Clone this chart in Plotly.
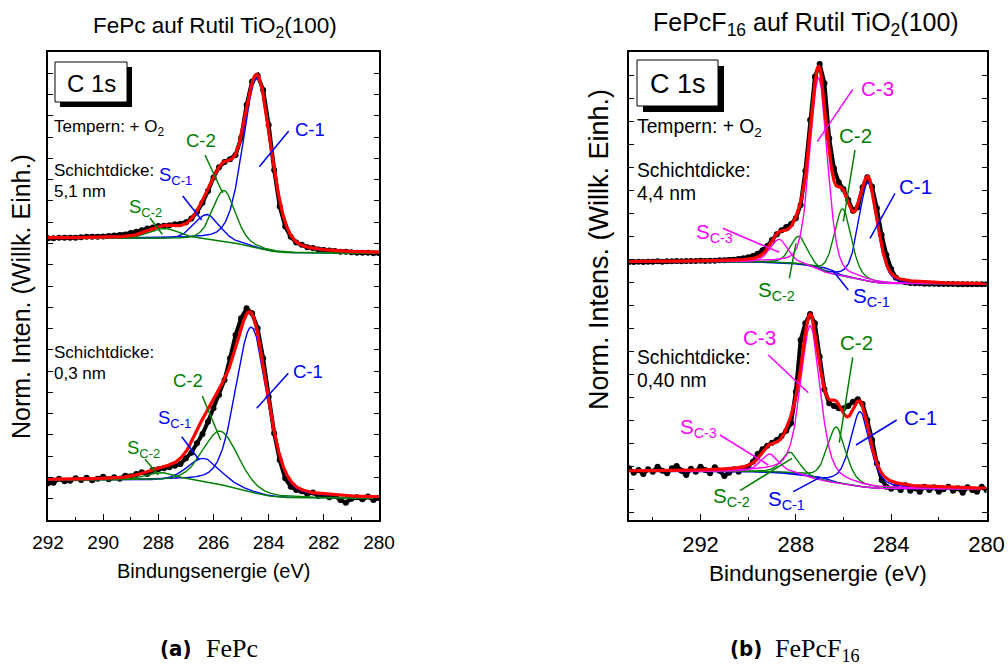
import numpy as np
import plotly.graph_objects as go

W, H = 1008, 666
FONT = "Liberation Sans, Arial, sans-serif"
BLUE, GREEN, MAGENTA, RED = "#0000ff", "#008000", "#ff00ff", "#ff0000"

# ---------------- measured C 1s spectra (norm. intensity, stacked) ----------------
# FePc on rutile TiO2(100): binding energy grid 292.0 ... 280.0 eV, 0.2 eV steps
E_FEPC = np.round(np.arange(292.0, 279.99, -0.2), 1)
FEPC_51NM = [
    60.2, 60.2, 60.3, 60.3, 60.3, 60.3, 60.4, 60.5, 60.5, 60.5,
    60.6, 60.7, 60.8, 60.9, 61.0, 61.3, 61.6, 61.9, 62.3, 62.5,
    62.8, 62.9, 63.0, 63.2, 63.3, 63.6, 64.4, 65.8, 67.8, 70.3,
    73.2, 75.4, 76.5, 77.1, 78.0, 81.6, 88.7, 93.7, 95.0, 91.9,
    84.4, 74.8, 67.0, 62.7, 60.5, 59.3, 58.8, 58.3, 58.1, 57.8,
    57.7, 57.6, 57.5, 57.3, 57.3, 57.2, 57.1, 57.1, 57.1, 57.0,
    57.0,
]
FEPC_03NM = [
    7.84, 7.98, 8.84, 8.27, 8.41, 8.91, 8.55, 9.05, 8.48, 8.84,
    9.26, 8.69, 9.12, 8.84, 9.48, 9.33, 9.83, 10.19, 9.83, 10.69,
    10.83, 11.04, 11.26, 11.61, 11.97, 13.18, 14.39, 16.39, 18.38, 21.02,
    23.86, 26.71, 29.92, 34.55, 39.53, 43.10, 45.23, 44.16, 40.96, 34.55,
    26.36, 18.52, 12.83, 8.91, 7.13, 6.42, 6.13, 5.56, 5.85, 5.13,
    5.35, 4.85, 5.13, 4.28, 3.71, 4.56, 4.85, 4.42, 5.00, 4.28,
    4.71,
]

# FePcF16 on rutile TiO2(100): binding energy grid 295.0 ... 280.0 eV, 0.2 eV steps
E_FEPCF16 = np.round(np.arange(295.0, 279.99, -0.2), 1)
FEPCF16_44NM = [
    55.13, 55.13, 55.20, 55.13, 55.20, 55.20, 55.27, 55.20, 55.27, 55.27,
    55.34, 55.27, 55.34, 55.34, 55.34, 55.42, 55.34, 55.42, 55.42, 55.49,
    55.49, 55.56, 55.63, 55.77, 55.91, 56.13, 56.41, 56.91, 57.62, 58.55,
    59.83, 61.04, 61.90, 62.61, 63.25, 64.46, 67.31, 74.58, 85.47, 94.73,
    97.44, 93.31, 81.56, 75.15, 72.15, 70.66, 68.38, 66.10, 66.81, 71.08,
    73.22, 71.23, 66.60, 60.90, 56.63, 53.64, 51.78, 51.07, 50.79, 50.64,
    50.57, 50.57, 50.50, 50.50, 50.50, 50.43, 50.43, 50.43, 50.43, 50.36,
    50.36, 50.36, 50.36, 50.36, 50.36, 50.36,
]
FEPCF16_040NM = [
    11.04, 10.12, 10.69, 9.83, 10.83, 10.33, 11.40, 10.54, 9.97, 11.04,
    11.54, 10.54, 9.62, 10.97, 10.33, 11.40, 10.69, 9.97, 11.26, 10.54,
    9.40, 10.12, 10.83, 10.33, 11.04, 11.40, 12.47, 14.10, 15.10, 15.88,
    16.53, 17.10, 17.95, 19.09, 20.66, 27.42, 38.46, 42.02, 44.02, 42.02,
    34.90, 27.92, 24.93, 24.36, 23.86, 23.86, 24.36, 25.29, 25.79, 24.79,
    21.37, 17.10, 12.11, 8.55, 7.12, 6.70, 7.12, 6.41, 7.41, 6.27,
    6.77, 6.06, 7.12, 6.41, 6.98, 6.06, 6.56, 7.12, 6.27, 6.77,
    5.84, 6.98, 6.41, 6.06, 7.12, 6.41,
]

# ---------------- fit components: centre (eV), height, FWHM (eV) ----------------
# FePc order: C-1, S(C-1), C-2, S(C-2)
FEPC_COLORS = [BLUE, BLUE, GREEN, GREEN]
FEPC_51NM_POS = [284.42, 286.23, 285.62, 287.75]
FEPC_51NM_HGT = [36.3, 5.5, 11.0, 2.2]
FEPC_51NM_FWHM = [1.20, 1.09, 0.97, 1.30]
FEPC_51NM_BG = [57.0, 60.2]           # Shirley levels: low-BE side, high-BE side
FEPC_51NM_ETA = 0.3                   # Lorentzian fraction of the pseudo-Voigt

FEPC_03NM_POS = [284.62, 286.35, 285.75, 287.87]
FEPC_03NM_HGT = [35.2, 5.2, 11.5, 1.7]
FEPC_03NM_FWHM = [1.36, 1.40, 1.50, 1.40]
FEPC_03NM_BG = [4.65, 8.55]
FEPC_03NM_ETA = 0.3

# FePcF16 order: C-1, S(C-1), C-2, S(C-2), C-3, S(C-3)
FEPCF16_COLORS = [BLUE, BLUE, GREEN, GREEN, MAGENTA, MAGENTA]
FEPCF16_44NM_POS = [284.97, 286.69, 286.03, 287.87, 287.04, 288.70]
FEPCF16_44NM_HGT = [21.0, 1.0, 14.45, 6.0, 41.0, 5.0]
FEPCF16_44NM_FWHM = [0.91, 0.85, 0.84, 0.84, 0.87, 0.88]
FEPCF16_44NM_BG = [50.4, 55.2]
FEPCF16_44NM_ETA = 0.3

FEPCF16_040NM_POS = [285.30, 286.90, 286.30, 288.24, 287.39, 289.08]
FEPCF16_040NM_HGT = [16.0, 0.7, 12.0, 4.6, 32.5, 3.9]
FEPCF16_040NM_FWHM = [0.96, 0.90, 0.92, 0.85, 0.98, 0.90]
FEPCF16_040NM_BG = [6.6, 10.4]
FEPCF16_040NM_ETA = 0.5


def pseudo_voigt(e, pos, height, fwhm, eta):
    d = (e - pos) / fwhm
    gauss = np.exp(-4.0 * np.log(2.0) * d ** 2)
    lorentz = 1.0 / (1.0 + 4.0 * d ** 2)
    return height * ((1.0 - eta) * gauss + eta * lorentz)


def shirley(e, total, low, high):
    """Shirley-type step background; e ascending."""
    cum = np.concatenate([[0.0], np.cumsum(0.5 * (total[1:] + total[:-1]) * np.diff(e))])
    return low + (high - low) * cum / cum[-1]


fig = go.Figure()


def add_spectrum(xa, ya, e_meas, meas, e_lo, e_hi, pos, hgt, fwhm, bg_levels, eta, colors):
    fig.add_trace(go.Scatter(
        x=e_meas, y=meas, xaxis=xa, yaxis=ya, mode="lines+markers",
        line=dict(color="black", width=4), marker=dict(color="black", size=6),
        hoverinfo="skip"))
    e = np.linspace(e_lo, e_hi, 1201)
    comps = [pseudo_voigt(e, p, h, w, eta) for p, h, w in zip(pos, hgt, fwhm)]
    bg = shirley(e, np.sum(comps, axis=0), *bg_levels)
    for comp, col in zip(comps, colors):
        fig.add_trace(go.Scatter(x=e, y=bg + comp, xaxis=xa, yaxis=ya, mode="lines",
                                 line=dict(color=col, width=1.4), hoverinfo="skip"))
    fig.add_trace(go.Scatter(x=e, y=bg + np.sum(comps, axis=0), xaxis=xa, yaxis=ya,
                             mode="lines", line=dict(color=RED, width=3.2), hoverinfo="skip"))


add_spectrum("x", "y", E_FEPC, FEPC_51NM, 280, 292, FEPC_51NM_POS, FEPC_51NM_HGT,
             FEPC_51NM_FWHM, FEPC_51NM_BG, FEPC_51NM_ETA, FEPC_COLORS)
add_spectrum("x", "y", E_FEPC, FEPC_03NM, 280, 292, FEPC_03NM_POS, FEPC_03NM_HGT,
             FEPC_03NM_FWHM, FEPC_03NM_BG, FEPC_03NM_ETA, FEPC_COLORS)
add_spectrum("x2", "y2", E_FEPCF16, FEPCF16_44NM, 280, 295, FEPCF16_44NM_POS,
             FEPCF16_44NM_HGT, FEPCF16_44NM_FWHM, FEPCF16_44NM_BG, FEPCF16_44NM_ETA,
             FEPCF16_COLORS)
add_spectrum("x2", "y2", E_FEPCF16, FEPCF16_040NM, 280, 295, FEPCF16_040NM_POS,
             FEPCF16_040NM_HGT, FEPCF16_040NM_FWHM, FEPCF16_040NM_BG, FEPCF16_040NM_ETA,
             FEPCF16_COLORS)


def xaxis_style(domain, rng, dtick, minor, size, tick0):
    return dict(domain=domain, range=rng, tick0=tick0, dtick=dtick, ticks="inside",
                ticklen=6, tickwidth=1.3, tickcolor="black", showline=True,
                linecolor="black", linewidth=1.5, mirror=True, showgrid=False,
                zeroline=False, ticklabelstandoff=4, automargin=False,
                tickfont=dict(family=FONT, size=size, color="black"),
                minor=dict(ticks="inside", ticklen=3.5, tickwidth=1.1,
                           tickcolor="black", dtick=minor, showgrid=False))


def yaxis_style(domain, anchor, tick0, dtick):
    return dict(domain=domain, range=[0, 100], anchor=anchor, tick0=tick0, dtick=dtick,
                ticks="inside", ticklen=5, tickwidth=1.1, tickcolor="black",
                showticklabels=False, showline=True, linecolor="black", linewidth=1.5,
                mirror="allticks", showgrid=False, zeroline=False, automargin=False)


YDOM = [1 - 520 / H, 1 - 52 / H]
fig.update_layout(
    width=W, height=H, margin=dict(l=0, r=0, t=0, b=0, autoexpand=False),
    paper_bgcolor="white", plot_bgcolor="white", showlegend=False,
    xaxis=xaxis_style([48 / W, 379 / W], [292, 280], 2, 1, 19, 280),
    yaxis=yaxis_style(YDOM, "x", 0, 100 / 22),
    xaxis2=dict(anchor="y2", **xaxis_style([629 / W, 986.5 / W], [295, 280], 4, 2, 22, 280)),
    yaxis2=yaxis_style(YDOM, "x2", 1.7, 4.915),
)


def px(x):
    return x / W


def py(y):
    return 1 - y / H


def text(x, y, s, size, color="black", xanchor="center", family=FONT, angle=0):
    fig.add_annotation(x=px(x), y=py(y), xref="paper", yref="paper", text=s,
                       showarrow=False, xanchor=xanchor, yanchor="middle", textangle=angle,
                       font=dict(family=family, size=size, color=color))


def leader(x0, y0, x1, y1, color):
    fig.add_shape(type="line", xref="paper", yref="paper", x0=px(x0), y0=py(y0),
                  x1=px(x1), y1=py(y1), line=dict(color=color, width=1.5))


def c1s_box(x0, y0, x1, y1, off, size):
    fig.add_shape(type="rect", xref="paper", yref="paper", x0=px(x0 + off), y0=py(y1 + off),
                  x1=px(x1 + off), y1=py(y0 + off), fillcolor="black", line=dict(width=0))
    fig.add_shape(type="rect", xref="paper", yref="paper", x0=px(x0), y0=py(y1),
                  x1=px(x1), y1=py(y0), fillcolor="white",
                  line=dict(color="black", width=1))
    text((x0 + x1) / 2, (y0 + y1) / 2 + 1, "C 1s", size)


# ---------- panel (a): FePc ----------
text(215, 27, "FePc auf Rutil TiO<sub>2</sub>(100)", 22.5)
text(213, 571, "Bindungsenergie (eV)", 20)
text(21, 297, "Norm. Inten. (Willk. Einh.)", 25, angle=-90)
c1s_box(55, 62, 127, 102, 5, 24)
text(52, 128, "Tempern: + O<sub>2</sub>", 17, xanchor="left")
text(52, 170, "Schichtdicke:", 17, xanchor="left")
text(52, 191, "5,1 nm", 17, xanchor="left")
text(52, 352, "Schichtdicke:", 17, xanchor="left")
text(52, 373, "0,3 nm", 17, xanchor="left")

text(310, 130, "C-1", 18.5, BLUE)
leader(288.7, 131, 259.3, 166.7, BLUE)
text(201, 140, "C-2", 18.5, GREEN)
leader(205, 155, 222.7, 193, GREEN)
text(157, 176, "S<sub>C-1</sub>", 18.5, BLUE, xanchor="left")
leader(182.7, 196, 201.7, 220, BLUE)
text(127, 208, "S<sub>C-2</sub>", 18.5, GREEN, xanchor="left")
leader(150, 218, 162.3, 234.3, GREEN)

text(308, 371, "C-1", 18.5, BLUE)
leader(288.3, 373.3, 256.7, 408.3, BLUE)
text(188, 380, "C-2", 18.5, GREEN)
leader(202.3, 396, 220.7, 440, GREEN)
text(156, 419, "S<sub>C-1</sub>", 18.5, BLUE, xanchor="left")
leader(181.7, 436.7, 199.3, 460, BLUE)
text(125, 449, "S<sub>C-2</sub>", 18.5, GREEN, xanchor="left")
leader(145, 459.3, 158.3, 475, GREEN)

# ---------- panel (b): FePcF16 ----------
text(806, 24, "FePcF<sub>16</sub> auf Rutil TiO<sub>2</sub>(100)", 25)
text(818, 573, "Bindungsenergie (eV)", 22.5)
text(599, 250, "Norm. Intens. (Willk. Einh.)", 27, angle=-90)
c1s_box(637, 60, 718, 106, 6, 27)
text(635, 128, "Tempern: + O<sub>2</sub>", 19.3, xanchor="left")
text(635, 170, "Schichtdicke:", 19.3, xanchor="left")
text(635, 193, "4,4 nm", 19.3, xanchor="left")
text(635, 357, "Schichtdicke:", 19.3, xanchor="left")
text(635, 380, "0,40 nm", 19.3, xanchor="left")

text(877.5, 88, "C-3", 20.5, MAGENTA)
leader(852.7, 89.3, 817.3, 141.7, MAGENTA)
text(855.5, 135, "C-2", 20.5, GREEN)
leader(855, 150, 843.3, 221.7, GREEN)
text(915, 187, "C-1", 20.5, BLUE)
leader(895, 193.3, 870, 238.3, BLUE)
text(694, 233, "S<sub>C-3</sub>", 20.5, MAGENTA, xanchor="left")
leader(722.7, 228.3, 779.3, 252.3, MAGENTA)
text(756, 291, "S<sub>C-2</sub>", 20.5, GREEN, xanchor="left")
leader(789.3, 278.3, 796, 243.3, GREEN)
text(851, 297, "S<sub>C-1</sub>", 20.5, BLUE, xanchor="left")
leader(848.3, 290, 832.3, 270, BLUE)

text(759.5, 337, "C-3", 20.5, MAGENTA)
leader(768.3, 355, 808.3, 392.7, MAGENTA)
text(856.5, 342, "C-2", 20.5, GREEN)
leader(852.7, 357.3, 839.3, 442.7, GREEN)
text(920, 417, "C-1", 20.5, BLUE)
leader(896.7, 420, 856, 445, BLUE)
text(678, 428, "S<sub>C-3</sub>", 20.5, MAGENTA, xanchor="left")
leader(720, 435, 768.3, 465, MAGENTA)
text(711, 497, "S<sub>C-2</sub>", 20.5, GREEN, xanchor="left")
leader(740, 490.7, 792, 458.3, GREEN)
text(766, 500, "S<sub>C-1</sub>", 20.5, BLUE, xanchor="left")
leader(793.3, 491.7, 820, 477.3, BLUE)

# ---------- sub-figure captions ----------
text(175, 648, "<b>(a)</b>", 22, family="DejaVu Sans Condensed, DejaVu Sans")
text(204, 648, "FePc", 26, xanchor="left", family="Liberation Serif, DejaVu Serif")
text(746, 648, "<b>(b)</b>", 22, family="DejaVu Sans Condensed, DejaVu Sans")
text(773, 650, "FePcF<sub>16</sub>", 26, xanchor="left", family="Liberation Serif, DejaVu Serif")

fig.write_html("out.html")
